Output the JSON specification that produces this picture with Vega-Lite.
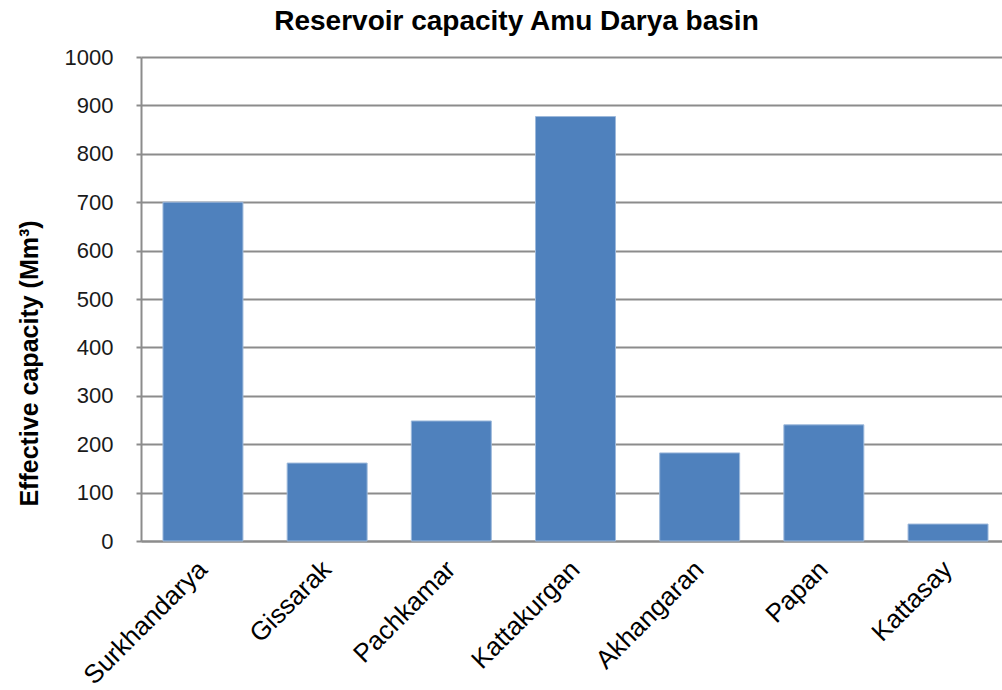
{
  "$schema": "https://vega.github.io/schema/vega-lite/v6.json",
  "autosize": "none",
  "width": 869,
  "height": 484,
  "padding": {"left": 141, "top": 57, "right": 0, "bottom": 149},
  "background": "white",
  "title": {
    "text": "Reservoir capacity Amu  Darya basin",
    "font": "Liberation Sans",
    "fontSize": 28,
    "fontWeight": "bold",
    "color": "#000000",
    "anchor": "middle",
    "dx": -59,
    "offset": 10
  },
  "data": {
    "values": [
      {"reservoir": "Surkhandarya", "capacity": 700},
      {"reservoir": "Gissarak", "capacity": 161},
      {"reservoir": "Pachkamar", "capacity": 248},
      {"reservoir": "Kattakurgan", "capacity": 877},
      {"reservoir": "Akhangaran", "capacity": 182},
      {"reservoir": "Papan", "capacity": 240},
      {"reservoir": "Kattasay", "capacity": 35}
    ]
  },
  "mark": {"type": "bar", "color": "#4F81BD", "stroke": "#9DB9DB", "strokeWidth": 1},
  "encoding": {
    "x": {
      "field": "reservoir",
      "type": "nominal",
      "sort": null,
      "scale": {"paddingInner": 0.356, "paddingOuter": 0.177},
      "axis": {
        "title": null,
        "labelAngle": -45,
        "labelAlign": "right",
        "labelBaseline": "middle",
        "labelFont": "Liberation Sans",
        "labelFontSize": 26,
        "labelColor": "#000000",
        "labelPadding": 24,
        "labelLimit": 300,
        "ticks": false,
        "domainColor": "#8C8C8C",
        "domainWidth": 2
      }
    },
    "y": {
      "field": "capacity",
      "type": "quantitative",
      "scale": {"domain": [0, 1000], "nice": false},
      "axis": {
        "title": "Effective  capacity (Mm³)",
        "titleFont": "Liberation Sans",
        "titleFontSize": 25,
        "titleFontWeight": "bold",
        "titleColor": "#000000",
        "titlePadding": 22,
        "titleY": 306,
        "values": [0, 100, 200, 300, 400, 500, 600, 700, 800, 900, 1000],
        "format": "d",
        "labelFont": "Liberation Sans",
        "labelFontSize": 22,
        "labelColor": "#1a1a1a",
        "labelPadding": 23,
        "tickSize": 5,
        "tickColor": "#8C8C8C",
        "tickWidth": 2,
        "domainColor": "#8C8C8C",
        "domainWidth": 2,
        "grid": true,
        "gridColor": "#8C8C8C",
        "gridWidth": 2
      }
    }
  },
  "config": {"view": {"stroke": null}}
}
